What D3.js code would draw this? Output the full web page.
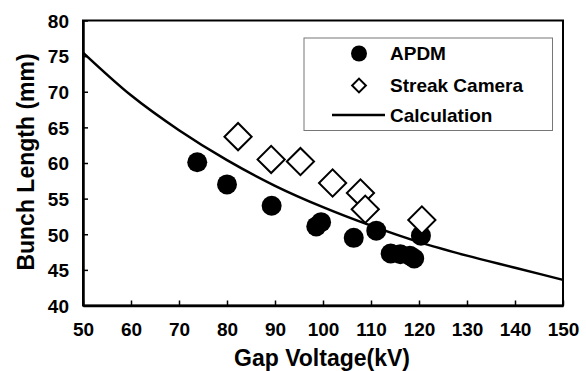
<!DOCTYPE html>
<html>
<head>
<meta charset="utf-8">
<script src="https://cdn.jsdelivr.net/npm/d3@7"></script>
<style>
  body { margin: 0; background: #fff; }
  text { font-family: "Liberation Sans", Arial, sans-serif; font-weight: bold; fill: #000; }
</style>
</head>
<body>
<div id="chart"></div>
<script>
// APDM measurements
var apdmVoltage = [73.8, 80.0, 89.3, 98.6, 99.6, 106.4, 111.1, 114.1, 116.1, 118.1, 119.0, 120.4];
var apdmLength  = [60.1, 57.0, 54.0, 51.1, 51.7, 49.5, 50.5, 47.3, 47.2, 47.0, 46.6, 49.8];

// streak camera measurements
var streakVoltage = [82.3, 89.2, 95.3, 102.0, 107.8, 108.8, 120.6];
var streakLength  = [63.7, 60.5, 60.2, 57.2, 55.8, 53.5, 52.0];

// calculation curve, read every 10 kV
var calcVoltage = [50, 60, 70, 80, 90, 100, 110, 120, 130, 140, 150];
var calcLength  = [75.5, 69.5, 64.6, 60.4, 56.8, 53.8, 51.2, 48.9, 47.0, 45.3, 43.6];

var xTicks = [50, 60, 70, 80, 90, 100, 110, 120, 130, 140, 150];
var yTicks = [40, 45, 50, 55, 60, 65, 70, 75, 80];

var legendItems = ["APDM", "Streak Camera", "Calculation"];

var W = 586, H = 371;
// plot box (window.top is reserved, so prefixed names)
var plotLeft = 83, plotRight = 563, plotTop = 20.5, plotBottom = 305.5;

var svg = d3.select("#chart").append("svg")
  .attr("width", W).attr("height", H);

var x = d3.scaleLinear().domain([50, 150]).range([plotLeft, plotRight]);
var y = d3.scaleLinear().domain([40, 80]).range([plotBottom, plotTop]);

// frame
svg.append("rect")
  .attr("x", plotLeft).attr("y", plotTop)
  .attr("width", plotRight - plotLeft).attr("height", plotBottom - plotTop)
  .attr("fill", "none").attr("stroke", "#000").attr("stroke-width", 2);

// axes, ticks pointing inward
var xAxis = svg.append("g")
  .attr("transform", "translate(0," + plotBottom + ")")
  .call(d3.axisBottom(x).tickValues(xTicks).tickSizeInner(-5).tickSizeOuter(0).tickPadding(17));
var yAxis = svg.append("g")
  .attr("transform", "translate(" + plotLeft + ",0)")
  .call(d3.axisLeft(y).tickValues(yTicks).tickSizeInner(-5).tickSizeOuter(0).tickPadding(14));

[xAxis, yAxis].forEach(function(g){
  g.select(".domain").attr("stroke", "#000").attr("stroke-width", 2.5);
  g.selectAll(".tick line").attr("stroke", "#000").attr("stroke-width", 1.5);
  g.selectAll(".tick text")
    .style("font-size", "19px")
    .style("font-family", "\"Liberation Sans\", Arial, sans-serif")
    .style("font-weight", "bold")
    .attr("fill", "#000");
});
yAxis.selectAll(".tick text").attr("dy", "0.36em");

// axis titles
svg.append("text")
  .attr("x", 322).attr("y", 366)
  .attr("text-anchor", "middle")
  .style("font-size", "23px")
  .text("Gap Voltage(kV)");

svg.append("text")
  .attr("transform", "translate(33.5,162) rotate(-90)")
  .attr("text-anchor", "middle")
  .style("font-size", "23px")
  .text("Bunch Length (mm)");

// calculation curve
var calc = calcVoltage.map(function(v, i){ return [v, calcLength[i]]; });
var line = d3.line()
  .x(function(d){ return x(d[0]); })
  .y(function(d){ return y(d[1]); })
  .curve(d3.curveMonotoneX);

svg.append("path")
  .datum(calc)
  .attr("d", line)
  .attr("fill", "none").attr("stroke", "#000").attr("stroke-width", 2.5);

// APDM points
svg.append("g").selectAll("circle")
  .data(apdmVoltage)
  .enter().append("circle")
  .attr("cx", function(d){ return x(d); })
  .attr("cy", function(d, i){ return y(apdmLength[i]); })
  .attr("r", 10)
  .attr("fill", "#000");

// streak camera points
var diamond = d3.symbol().type(d3.symbolSquare).size(370);
svg.append("g").selectAll("path")
  .data(streakVoltage)
  .enter().append("path")
  .attr("d", diamond)
  .attr("transform", function(d, i){
    return "translate(" + x(d) + "," + y(streakLength[i]) + ") rotate(45)";
  })
  .attr("fill", "#fff").attr("stroke", "#000").attr("stroke-width", 2);

// legend
var lg = svg.append("g");
lg.append("rect")
  .attr("x", 304).attr("y", 38)
  .attr("width", 248.5).attr("height", 92.5)
  .attr("fill", "#fff").attr("stroke", "#777").attr("stroke-width", 1);

var rowY = [53.5, 85.5, 115];
lg.append("circle").attr("cx", 359).attr("cy", rowY[0]).attr("r", 8).attr("fill", "#000");
lg.append("path")
  .attr("d", d3.symbol().type(d3.symbolSquare).size(95))
  .attr("transform", "translate(359," + rowY[1] + ") rotate(45)")
  .attr("fill", "#fff").attr("stroke", "#000").attr("stroke-width", 2);
lg.append("line")
  .attr("x1", 332).attr("x2", 385)
  .attr("y1", rowY[2]).attr("y2", rowY[2])
  .attr("stroke", "#000").attr("stroke-width", 2.5);

lg.selectAll("text.item")
  .data(legendItems)
  .enter().append("text")
  .attr("class", "item")
  .attr("x", 390)
  .attr("y", function(d, i){ return rowY[i]; })
  .attr("dy", "0.36em")
  .style("font-size", "19px")
  .text(function(d){ return d; });
</script>
</body>
</html>
